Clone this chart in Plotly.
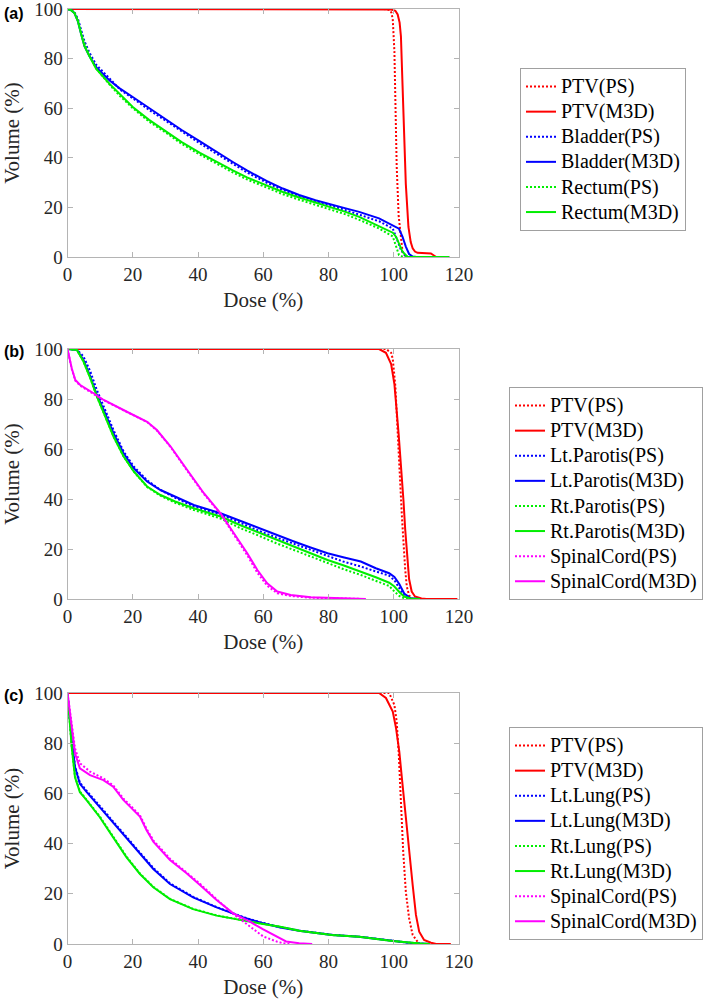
import plotly.graph_objects as go

# ---- (a) prostate ----
a_ptv_ps_dose = [0, 97, 98.7, 99.3, 99.7, 100.2, 100.5, 100.9, 101.5, 102.2, 102.7, 103.7, 104.5]
a_ptv_ps_vol = [100, 100, 99.6, 98.5, 95.7, 83, 63, 36.6, 16.7, 7.4, 2, 0.2, 0]
a_ptv_m3d_dose = [0, 95, 99.2, 100.5, 101.2, 101.8, 102.2, 102.7, 103.2, 103.7, 104.5, 105.2,
                  105.8, 106.5, 107.3, 109.8, 111.4, 112.2, 112.9, 117]
a_ptv_m3d_vol = [100, 100, 99.8, 99.3, 97.8, 94.5, 89, 69, 46.6, 29.4, 12.1, 6,
                 3.5, 2.2, 1.7, 1.7, 1.4, 0.7, 0.1, 0]
a_oar_dose = [0, 1, 2.1, 3.2, 4.2, 5.2, 6.7, 8.8, 12.9, 16, 20, 25, 30.4, 35, 40.6, 45, 50.8,
              55, 61, 66, 71, 76, 81, 85, 89.4, 95.5, 99.7]
a_bladder_ps_vol = [100, 99.7, 98.8, 96, 91.5, 87, 82.5, 77.5, 72, 67.6, 64, 59.3, 54.7, 50.6,
                    45.8, 42.2, 37.4, 34.1, 30, 27, 24.5, 22.4, 20.5, 19, 17.2, 14.4, 11.5]
a_bladder_m3d_vol = [100, 99.6, 98.4, 95, 89.8, 85, 81, 76.5, 71.2, 68, 64.5, 60, 55.3, 51.2,
                     46.6, 42.9, 38.2, 34.9, 30.7, 27.6, 25, 22.9, 21, 19.7, 18.2, 15.6, 13.2]
a_rectum_ps_vol = [100, 99.7, 98.6, 95.5, 90.5, 86, 81.5, 76, 69.5, 65, 60, 54.6, 49.9, 45.6,
                   41.3, 38.1, 34, 31.3, 27.9, 25.3, 23.1, 21.1, 19.1, 17.3, 15, 11.5, 8.3]
a_rectum_m3d_vol = [100, 99.6, 98.4, 95, 89.8, 85, 81, 75.8, 69.8, 65.6, 60.5, 55.3, 50.6, 46.3,
                    42, 38.8, 34.8, 32.1, 28.8, 26.2, 24, 22, 20, 18.3, 16.2, 12.6, 9.8]
a_bladder_ps_tail_dose = [101.2, 102.2, 103.7, 104.5]
a_bladder_ps_tail_vol = [6.8, 2.9, 0.2, 0]
a_bladder_m3d_tail_dose = [101.6, 102.7, 103.7, 104.7, 105.8, 107, 117]
a_bladder_m3d_tail_vol = [11.4, 8.1, 4.2, 1.2, 0.2, 0, 0]
a_rectum_ps_tail_dose = [100.7, 101.6, 102.7, 104]
a_rectum_ps_tail_vol = [4.1, 0.8, 0.1, 0]
a_rectum_m3d_tail_dose = [100.7, 101.6, 102.7, 104.2, 106, 117]
a_rectum_m3d_tail_vol = [8.2, 5.4, 2.1, 0.1, 0, 0]

# ---- (b) head and neck ----
b_ptv_ps_dose = [0, 97.6, 99.2, 99.7, 100.5, 101, 101.5, 102, 102.5, 103, 103.5, 104, 104.7, 105.5, 106]
b_ptv_ps_vol = [100, 100, 98.5, 96, 85, 70, 57, 46, 33, 21, 12, 5, 1.5, 0.2, 0]
b_ptv_m3d_dose = [0, 95.5, 97.6, 99.2, 100.2, 100.9, 101.5, 102, 102.5, 103, 103.5, 104, 104.7,
                  105.5, 106.5, 108.5, 110, 119.5]
b_ptv_m3d_vol = [100, 100, 98.5, 94, 86, 76, 66, 57, 49, 39, 28, 18, 8, 3, 1, 0.2, 0, 0]
b_oar_dose = [0, 2.9, 4.9, 7, 9, 11.1, 14.1, 17.2, 20.3, 24.4, 28.5, 33, 38.7, 46.9, 53,
              59.2, 64, 69.4, 74.5, 79.7, 84.5, 89.9, 94.5, 98.6, 100.2, 101.7, 103.2, 105.2, 108]
b_ltpar_ps_vol = [100, 99.8, 97, 91, 83.6, 77, 67.6, 59, 53, 47.5, 43.6, 40.5, 37, 33.8, 30.3,
                  27, 24.6, 22, 19.6, 17, 15, 13, 11, 9.3, 7.5, 4.5, 1.2, 0.2, 0]
b_ltpar_m3d_vol = [100, 99.6, 95.6, 89, 81.6, 75.6, 66.3, 58.3, 52.3, 47, 43.6, 41, 37.6, 34.3, 31.2,
                   28.3, 25.8, 23, 20.6, 18.3, 16.7, 15, 12.3, 10.3, 8.8, 6, 2.2, 0.3, 0]
b_rtpar_ps_vol = [100, 99.6, 95, 88.3, 81, 74.3, 65, 57, 51, 44.8, 41.3, 38.5, 35.6, 32.2, 28.3,
                  25, 22.3, 19.6, 17, 14.3, 12, 9.6, 7.2, 5.2, 3, 1.2, 0.3, 0, 0]
b_rtpar_m3d_vol = [100, 99.6, 95, 88.3, 81, 74.3, 65, 57, 51, 45, 41.6, 39, 36.3, 33, 29.5,
                   26.3, 23.8, 21, 18.3, 15.6, 13.5, 11, 8.7, 6.5, 5, 2.8, 1, 0.2, 0]
b_cord_dose = [0, 1.3, 2.4, 3.9, 8, 11.1, 18.2, 24.4, 27.4, 31.6, 36.7, 41.8, 46.9, 51, 55.1,
               58.2, 61.2, 64.3, 68.4, 74.6, 84.8, 91.4]
b_cord_ps_vol = [100, 92, 87.3, 85.3, 82, 79.5, 74.8, 70.8, 67.4, 60.8, 51.3, 42, 34, 26, 17.5,
                 10.5, 5.3, 2.3, 1.2, 0.5, 0.1, 0]
b_cord_m3d_vol = [100, 92.3, 87.6, 85.6, 82.3, 79.6, 74.9, 70.9, 67.6, 61, 51.6, 42.3, 34.3, 26.3,
                  18.3, 11.6, 6.3, 3, 1.6, 0.7, 0.1, 0]

# ---- (c) lung ----
c_ptv_ps_dose = [0, 98.6, 100.2, 100.9, 101.5, 102.2, 102.9, 103.7, 104.7, 105.8, 107.3, 107.8]
c_ptv_ps_vol = [100, 100, 95.2, 88.6, 76.6, 56.7, 36.8, 20.9, 10.3, 3.6, 1, 0]
c_ptv_m3d_dose = [0, 95.5, 97.6, 99.7, 100.7, 101.7, 102.7, 103.7, 104.7, 105.8, 106.8, 107.8,
                  109.3, 111.4, 113, 117.5]
c_ptv_m3d_vol = [100, 100, 98, 92.6, 86, 76.6, 63.4, 50, 36.8, 23.5, 11.6, 4.9, 1.6, 0.5, 0, 0]
c_lung_dose = [0, 1.3, 2.3, 3.8, 5.9, 9.9, 14, 18.1, 22.2, 26.3, 31.4, 38.5, 45.7, 53.9, 59, 65.2,
               71, 81, 89.4, 99.7, 104, 108, 111]
c_ltlung_ps_vol = [100, 81.5, 71, 64.3, 61, 55, 49, 43, 36.4, 30.3, 24.2, 18.8, 14.7, 10.7, 8.7,
                   6.7, 5.4, 3.7, 2.9, 1.2, 0.6, 0.2, 0]
c_ltlung_m3d_vol = [100, 81, 70.5, 63.8, 60.5, 54.5, 48.5, 42.5, 35.9, 29.9, 23.9, 18.6, 14.6,
                    10.6, 8.6, 6.6, 5.3, 3.6, 2.9, 1.2, 0.6, 0.2, 0]
c_rtlung_ps_vol = [100, 78.6, 66.8, 60.8, 57.4, 50.8, 42.8, 34.8, 28.1, 22.8, 18, 14, 11.4, 9.3,
                   8.2, 6.9, 5.3, 3.6, 2.9, 1.2, 0.6, 0.2, 0]
c_rtlung_m3d_vol = [100, 78.3, 66.4, 60.5, 57.2, 50.5, 42.5, 34.5, 27.9, 22.6, 17.9, 13.9, 11.3,
                    9.3, 8.2, 6.9, 5.3, 3.6, 2.9, 1.2, 0.6, 0.2, 0]
c_cord_ps_dose = [0, 1.3, 2.3, 3.8, 6.9, 11, 14, 17.1, 20.1, 22.2, 24.2, 26.3, 31.4, 36.5, 40.6,
                  45.7, 50.8, 55.9, 60, 64.1, 66, 68]
c_cord_ps_vol = [100, 88.5, 78, 72, 68.7, 66, 63.2, 58, 54, 51.3, 46, 41.3, 34, 28.6, 24, 17.8,
                 12, 7, 3, 1, 0.3, 0]
c_cord_m3d_dose = [0, 1.3, 2.3, 3.8, 6.9, 11, 14, 17.1, 20.1, 22.2, 24.2, 26.3, 31.4, 36.5, 40.6,
                   45.7, 50.8, 55.9, 60, 64.1, 67, 71, 75]
c_cord_m3d_vol = [100, 87.4, 76, 70, 67.3, 65.3, 62.7, 57.4, 53.4, 50.8, 45.4, 40.8, 33.5, 28.2,
                  23.5, 17.5, 12.2, 8.9, 5.8, 2.9, 1, 0.3, 0]

RED, BLUE, GREEN, MAG = "#ff0000", "#0000ff", "#00ee00", "#ff00ff"
SERIF = "Times New Roman"

fig = go.Figure()


def add(x, y, name, color, dotted, panel):
    sfx = "" if panel == 1 else str(panel)
    fig.add_trace(go.Scatter(
        x=x, y=y, mode="lines",
        # bigger glyphs than the legend row height, like the tight MATLAB legend
        name='<span style="font-size:20px">' + name + "</span>",
        line=dict(color=color, width=2, dash="2px,2px" if dotted else "solid"),
        xaxis="x" + sfx, yaxis="y" + sfx, legend="legend" + sfx,
    ))


add(a_ptv_ps_dose, a_ptv_ps_vol, "PTV(PS)", RED, True, 1)
add(a_ptv_m3d_dose, a_ptv_m3d_vol, "PTV(M3D)", RED, False, 1)
add(a_oar_dose + a_bladder_ps_tail_dose, a_bladder_ps_vol + a_bladder_ps_tail_vol,
    "Bladder(PS)", BLUE, True, 1)
add(a_oar_dose[:-1] + a_bladder_m3d_tail_dose, a_bladder_m3d_vol[:-1] + a_bladder_m3d_tail_vol,
    "Bladder(M3D)", BLUE, False, 1)
add(a_oar_dose + a_rectum_ps_tail_dose, a_rectum_ps_vol + a_rectum_ps_tail_vol,
    "Rectum(PS)", GREEN, True, 1)
add(a_oar_dose + a_rectum_m3d_tail_dose, a_rectum_m3d_vol + a_rectum_m3d_tail_vol,
    "Rectum(M3D)", GREEN, False, 1)

add(b_ptv_ps_dose, b_ptv_ps_vol, "PTV(PS)", RED, True, 2)
add(b_ptv_m3d_dose, b_ptv_m3d_vol, "PTV(M3D)", RED, False, 2)
add(b_oar_dose, b_ltpar_ps_vol, "Lt.Parotis(PS)", BLUE, True, 2)
add(b_oar_dose, b_ltpar_m3d_vol, "Lt.Parotis(M3D)", BLUE, False, 2)
add(b_oar_dose, b_rtpar_ps_vol, "Rt.Parotis(PS)", GREEN, True, 2)
add(b_oar_dose, b_rtpar_m3d_vol, "Rt.Parotis(M3D)", GREEN, False, 2)
add(b_cord_dose, b_cord_ps_vol, "SpinalCord(PS)", MAG, True, 2)
add(b_cord_dose, b_cord_m3d_vol, "SpinalCord(M3D)", MAG, False, 2)

add(c_ptv_ps_dose, c_ptv_ps_vol, "PTV(PS)", RED, True, 3)
add(c_ptv_m3d_dose, c_ptv_m3d_vol, "PTV(M3D)", RED, False, 3)
add(c_lung_dose, c_ltlung_ps_vol, "Lt.Lung(PS)", BLUE, True, 3)
add(c_lung_dose, c_ltlung_m3d_vol, "Lt.Lung(M3D)", BLUE, False, 3)
add(c_lung_dose, c_rtlung_ps_vol, "Rt.Lung(PS)", GREEN, True, 3)
add(c_lung_dose, c_rtlung_m3d_vol, "Rt.Lung(M3D)", GREEN, False, 3)
add(c_cord_ps_dose, c_cord_ps_vol, "SpinalCord(PS)", MAG, True, 3)
add(c_cord_m3d_dose, c_cord_m3d_vol, "SpinalCord(M3D)", MAG, False, 3)

W, H = 709, 1001
x_dom = [67.5 / W, 459 / W]
y_doms = [(9, 257), (349, 599), (693, 944)]   # top, bottom in pixels
legend_pos = [(520, 68), (509, 387), (509, 727)]
label_y = [13, 351, 695]
labels = ["(a)", "(b)", "(c)"]

axis_common = dict(
    showline=True, linecolor="#b4b4b4", linewidth=1, mirror="ticks",
    ticks="inside", ticklen=5, tickcolor="#b4b4b4",
    showgrid=False, zeroline=False, automargin=False, ticklabeloverflow="allow",
    tickfont=dict(family=SERIF, size=19, color="#262626"),
)

layout = dict(
    width=W, height=H,
    margin=dict(l=0, r=0, t=0, b=0),
    paper_bgcolor="white", plot_bgcolor="white",
    showlegend=True,
    annotations=[],
)

for i in range(3):
    sfx = "" if i == 0 else str(i + 1)
    top, bot = y_doms[i]
    layout["xaxis" + sfx] = dict(
        axis_common, domain=x_dom, range=[0, 120], tickvals=[0, 20, 40, 60, 80, 100, 120],
        anchor="y" + sfx,
        title=dict(text="Dose (%)", font=dict(family=SERIF, size=21, color="#262626"), standoff=8),
    )
    layout["yaxis" + sfx] = dict(
        axis_common, domain=[1 - bot / H, 1 - top / H], range=[0, 100],
        tickvals=[0, 20, 40, 60, 80, 100], anchor="x" + sfx,
        title=dict(text="Volume (%)", font=dict(family=SERIF, size=21, color="#262626"), standoff=10),
    )
    lx, ly = legend_pos[i]
    layout["legend" + sfx] = dict(
        x=lx / W, y=1 - ly / H, xanchor="left", yanchor="top",
        font=dict(family=SERIF, size=17, color="black"),
        bordercolor="#a0a0a0", borderwidth=1, bgcolor="white",
        itemwidth=30, tracegroupgap=0,
    )
    layout["annotations"].append(dict(
        text="<b>" + labels[i] + "</b>", xref="paper", yref="paper",
        x=2 / W, y=1 - label_y[i] / H, xanchor="left", yanchor="middle",
        showarrow=False, font=dict(family="Liberation Sans", size=16, color="black"),
    ))

fig.update_layout(**layout)

# drop the page's default body margin so the figure sits at the window's corner
fig.write_html("out.html", config={"displayModeBar": False},
               post_script="document.body.style.margin = '0px';")
